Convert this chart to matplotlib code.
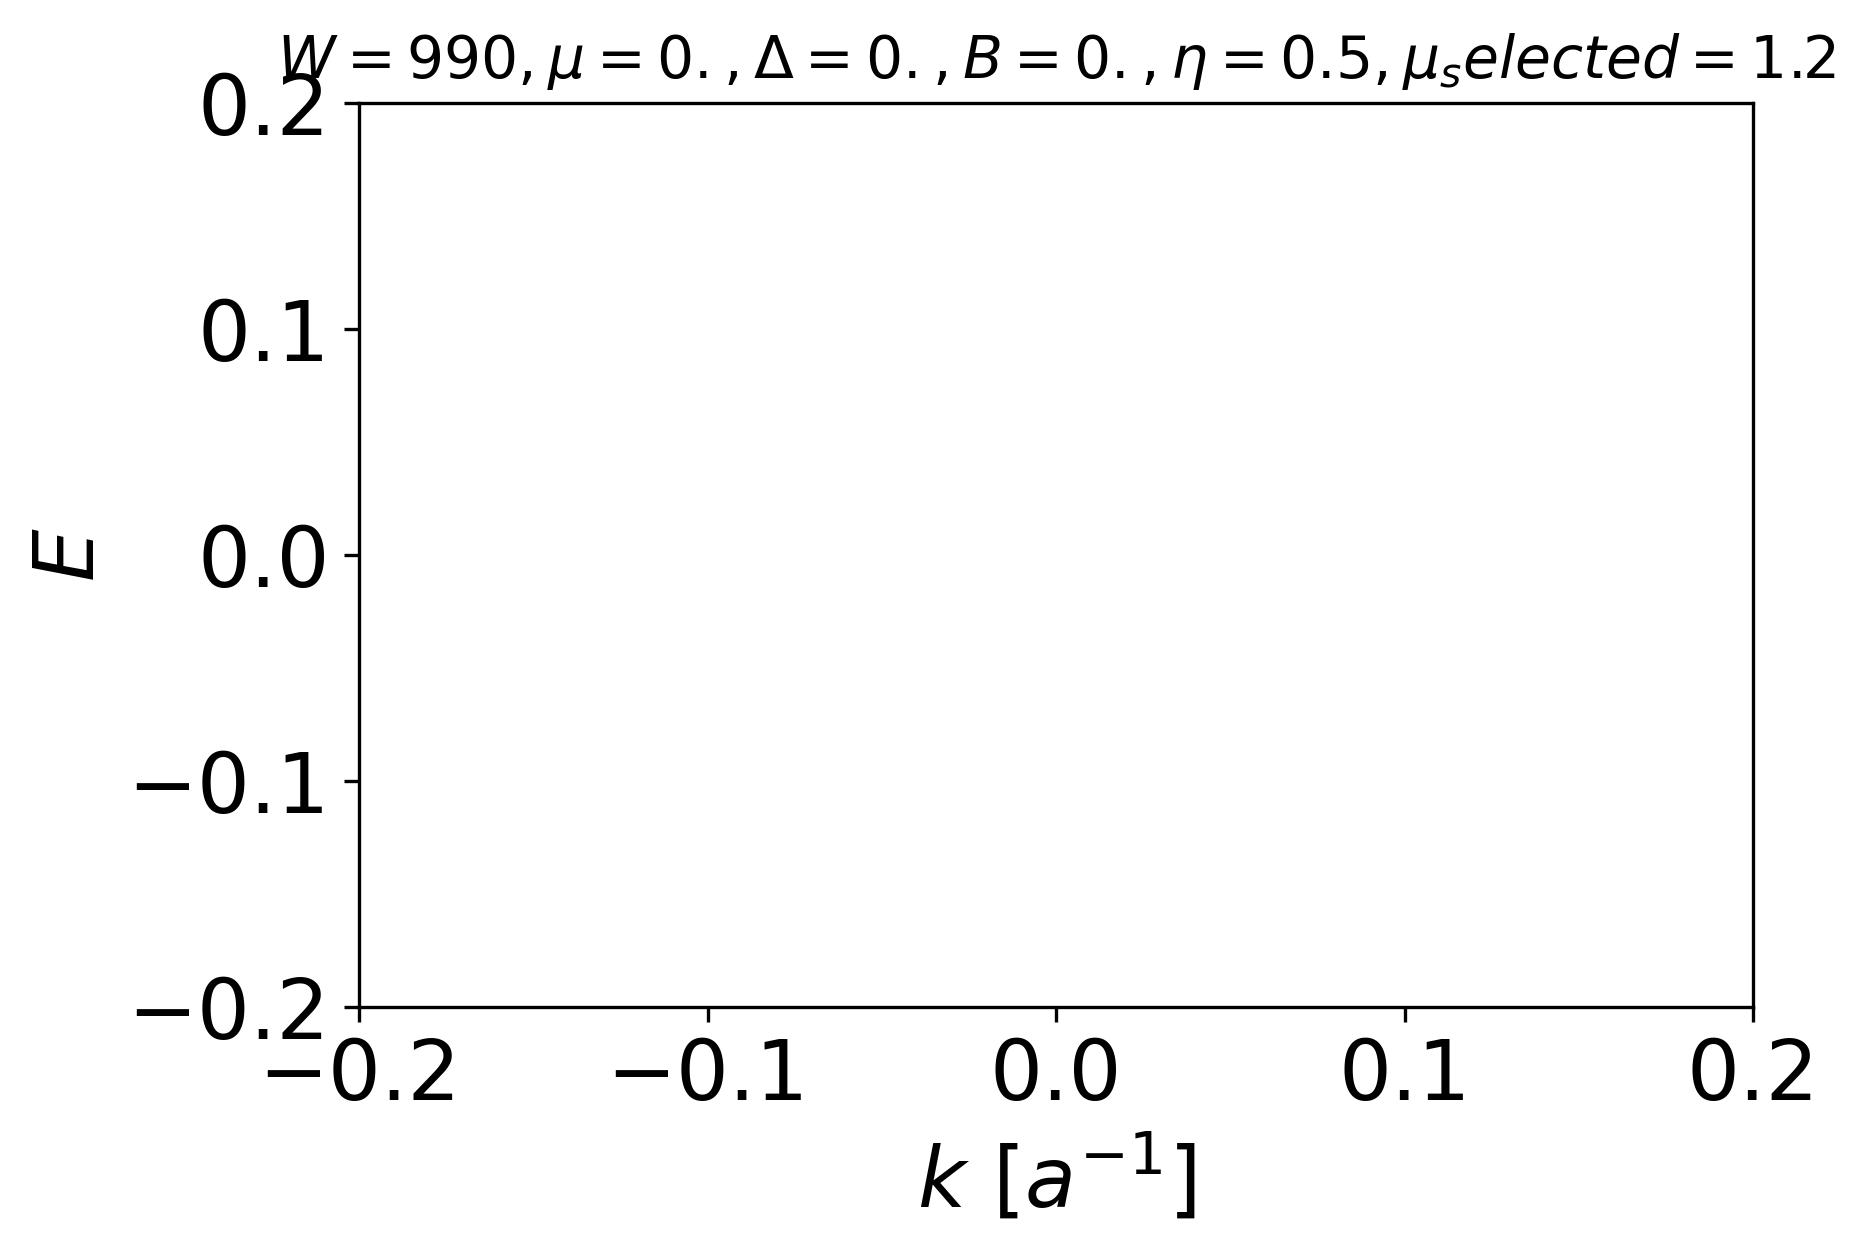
import matplotlib
matplotlib.use('Agg')
import matplotlib.pyplot as plt

# axis settings (the plot itself is empty)
x_range = [-0.2, 0.2]
y_range = [-0.2, 0.2]
x_ticks = [-0.2, -0.1, 0.0, 0.1, 0.2]
y_ticks = [-0.2, -0.1, 0.0, 0.1, 0.2]
title = r'$W=990, \mu=0., \Delta=0., B=0., \eta=0.5, \mu_selected=1.2$'

fig = plt.figure(figsize=(1865 / 300, 1255 / 300), dpi=300)
ax = fig.add_subplot(111)
fig.subplots_adjust(left=0.1925, right=0.940, top=0.918, bottom=0.1976)

ax.set_xlim(x_range)
ax.set_ylim(y_range)
ax.set_xticks(x_ticks)
ax.set_yticks(y_ticks)
ax.tick_params(labelsize=20)
ax.set_xlabel(r'$k\ [a^{-1}]$', fontsize=20)
ax.set_ylabel(r'$E$', fontsize=20)
ax.set_title(title, fontsize=14)

fig.savefig('out.png', dpi=300)
